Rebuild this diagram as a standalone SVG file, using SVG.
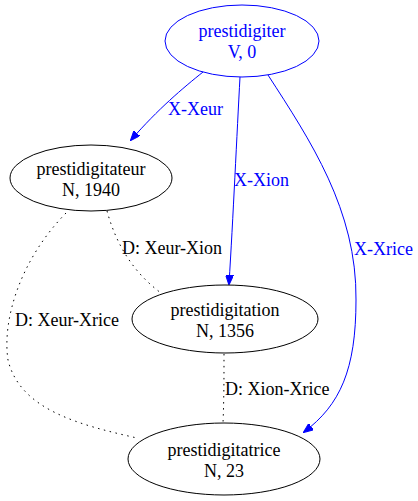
<svg xmlns="http://www.w3.org/2000/svg" width="418" height="501" viewBox="0 0 418 501">
<style>
.n{fill:none;stroke:#000;stroke-width:1}
.b{fill:none;stroke:#0000ff;stroke-width:1}
.d{fill:none;stroke:#000;stroke-width:1;stroke-dasharray:1.5,4.5}
</style>
<defs>
<marker id="ah" markerWidth="10" markerHeight="8" refX="9" refY="4" orient="auto" markerUnits="userSpaceOnUse">
<path d="M0,0 L10,4 L0,8 Z" fill="#0000ff" stroke="#0000ff"/>
</marker>
</defs>
<rect width="418" height="501" fill="#fff"/>
<g id="edges" font-family="Liberation Serif, Times New Roman, serif" font-size="18px">
<path class="b" d="M203,72 C183,88 158,109 131,140" marker-end="url(#ah)"/>
<text fill="#0000ff" x="168" y="115">X-Xeur</text>
<path class="b" d="M240,77 C237,132 233,220 229,284" marker-end="url(#ah)"/>
<text fill="#0000ff" x="234" y="186">X-Xion</text>
<path class="b" d="M268,75 C310,140 357,210 356,300 C356,370 340,405 304,432" marker-end="url(#ah)"/>
<text fill="#0000ff" x="354" y="255">X-Xrice</text>
<path class="d" d="M107,211 C115,240 130,270 161,293"/>
<text fill="#000" x="122" y="254">D: Xeur-Xion</text>
<path class="d" d="M66,213 C20,260 2,320 8,360 C20,410 80,425 137,438"/>
<text fill="#000" x="15" y="326">D: Xeur-Xrice</text>
<path class="d" d="M224,354 C224,375 224,400 223,423"/>
<text fill="#000" x="225" y="395">D: Xion-Xrice</text>
</g>
<g id="prestidigiter" font-family="Liberation Serif, Times New Roman, serif" font-size="18px" text-anchor="middle" fill="#0000ff">
<ellipse class="b" cx="242" cy="41" rx="77" ry="36"/>
<text x="242" y="37">prestidigiter</text>
<text x="242" y="58">V, 0</text>
</g>
<g id="prestidigitateur" font-family="Liberation Serif, Times New Roman, serif" font-size="18px" text-anchor="middle" fill="#000">
<ellipse class="n" cx="91" cy="178" rx="81" ry="33"/>
<text x="91" y="175">prestidigitateur</text>
<text x="91" y="196">N, 1940</text>
</g>
<g id="prestidigitation" font-family="Liberation Serif, Times New Roman, serif" font-size="18px" text-anchor="middle" fill="#000">
<ellipse class="n" cx="225" cy="319" rx="93" ry="34"/>
<text x="225" y="316">prestidigitation</text>
<text x="225" y="337">N, 1356</text>
</g>
<g id="prestidigitatrice" font-family="Liberation Serif, Times New Roman, serif" font-size="18px" text-anchor="middle" fill="#000">
<ellipse class="n" cx="224" cy="459" rx="96" ry="36"/>
<text x="224" y="456">prestidigitatrice</text>
<text x="224" y="477">N, 23</text>
</g>
</svg>
